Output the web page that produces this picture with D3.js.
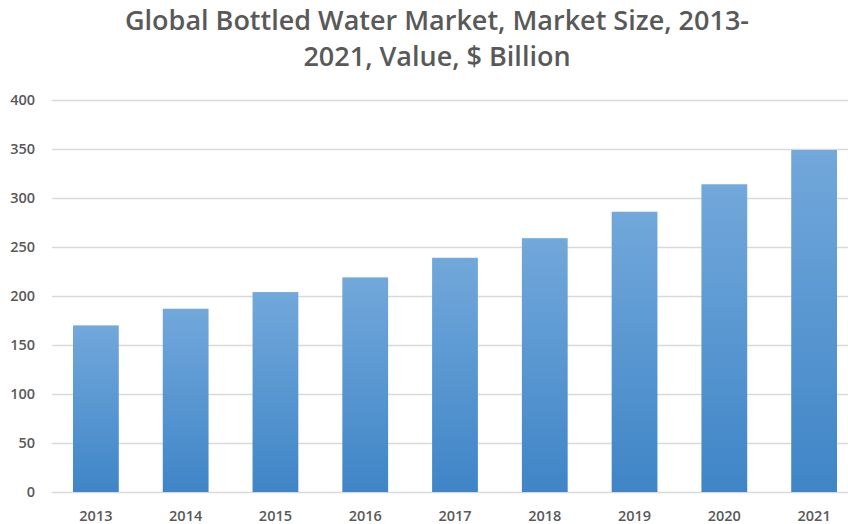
<!DOCTYPE html>
<html>
<head>
<meta charset="utf-8">
<script src="https://cdn.jsdelivr.net/npm/d3@7"></script>
<style>
  body { margin: 0; background: #fff; }
  svg { display: block; }
</style>
</head>
<body>
<svg width="848" height="524"></svg>
<script>
// данные
const years = ['2013', '2014', '2015', '2016', '2017', '2018', '2019', '2020', '2021'];
const values = [170, 187, 204, 219, 239, 259, 286, 314, 349];
const yTicks = [0, 50, 100, 150, 200, 250, 300, 350, 400];
const titleLines = ['Global Bottled Water Market, Market Size, 2013-', '2021, Value, $ Billion'];

const svg = d3.select('svg');
const font = '"Open Sans", sans-serif';
const textColor = '#595959';

const area = { left: 51, right: 859, top: 100, bottom: 492 };

const scX = d3.scaleBand()
    .domain(years)
    .range([area.left, area.right])
    .paddingInner(0.49)
    .paddingOuter(0.245);

const scY = d3.scaleLinear()
    .domain([0, 400])
    .range([area.bottom, area.top]);

// градиент столбцов
const grad = svg.append('defs').append('linearGradient')
    .attr('id', 'barGrad')
    .attr('x1', 0).attr('y1', 0).attr('x2', 0).attr('y2', 1);
grad.append('stop').attr('offset', '0%').attr('stop-color', '#72a8db');
grad.append('stop').attr('offset', '100%').attr('stop-color', '#3f85c7');

// сетка
svg.append('g')
    .selectAll('line')
    .data(yTicks)
    .enter()
    .append('line')
    .attr('x1', area.left + 1)
    .attr('x2', 848)
    .attr('y1', d => Math.round(scY(d)) + 0.5)
    .attr('y2', d => Math.round(scY(d)) + 0.5)
    .style('stroke', '#d9d9d9')
    .style('stroke-width', 1.5);

// столбцы
svg.append('g')
    .selectAll('rect')
    .data(values)
    .enter()
    .append('rect')
    .attr('x', (d, i) => scX(years[i]))
    .attr('y', d => scY(d))
    .attr('width', scX.bandwidth())
    .attr('height', d => scY(0) - scY(d))
    .style('fill', 'url(#barGrad)');

// подписи оси Y
svg.append('g')
    .selectAll('text')
    .data(yTicks)
    .enter()
    .append('text')
    .attr('x', 35)
    .attr('y', d => scY(d))
    .attr('dy', '0.35em')
    .attr('text-anchor', 'end')
    .style('font-family', font)
    .style('font-size', '14.5px')
    .style('font-weight', 600)
    .style('fill', textColor)
    .text(d => d);

// подписи оси X
svg.append('g')
    .selectAll('text')
    .data(years)
    .enter()
    .append('text')
    .attr('x', d => scX(d) + scX.bandwidth() / 2)
    .attr('y', 521)
    .attr('text-anchor', 'middle')
    .style('font-family', font)
    .style('font-size', '14.5px')
    .style('font-weight', 600)
    .style('fill', textColor)
    .text(d => d);

// заголовок
svg.append('g')
    .selectAll('text')
    .data(titleLines)
    .enter()
    .append('text')
    .attr('x', 437)
    .attr('y', (d, i) => 30 + i * 36)
    .attr('text-anchor', 'middle')
    .style('font-family', font)
    .style('font-size', '27px')
    .style('font-weight', 600)
    .style('fill', textColor)
    .text(d => d);
</script>
</body>
</html>
